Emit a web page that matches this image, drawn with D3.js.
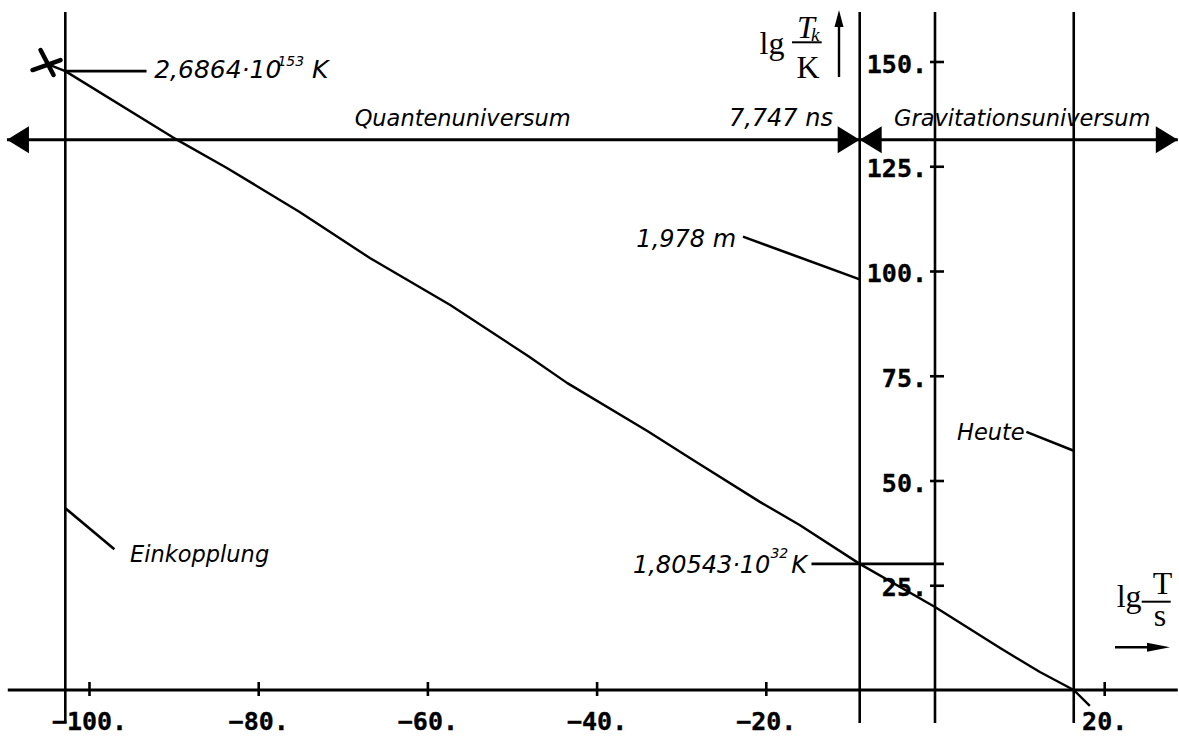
<!DOCTYPE html>
<html>
<head>
<meta charset="utf-8">
<script src="https://cdn.jsdelivr.net/npm/d3@7"></script>
<style>
  html, body { margin: 0; padding: 0; background: #fff; }
  svg { display: block; }
  .tick text { font-family: "DejaVu Sans Mono", monospace; font-weight: bold; font-size: 25px; fill: #000; stroke: #000; stroke-width: 0.35px; }
  .ann { font-family: "DejaVu Sans", sans-serif; font-style: italic; fill: #000; }
  .serif { font-family: "Liberation Serif", "Times New Roman", serif; fill: #000; }
</style>
</head>
<body>
<script>
// ---------- data ----------
const xTicks = [-100, -80, -60, -40, -20, 20];
const yTicks = [25, 50, 75, 100, 125, 150];

// lg(T/s) vs lg(Tk/K) curve
const curveX = [-104.9, -102.8, -90.1, -83.7, -75.1, -66.8, -57.3, -48.1, -43.5, -34.0, -28.6, -20.7, -16.0, -8.9, 0, 7.7, 12.4, 16.4, 18.3];
const curveY = [149.4, 147.7, 131.9, 124.6, 114.1, 103.1, 91.9, 79.7, 73.3, 61.8, 54.9, 44.9, 39.4, 30.1, 19.8, 10.0, 4.3, 0, -3.8];

// vertical event lines: Einkopplung, 7,747 ns, axis, Heute
const eventX = [-102.8, -8.9, 0, 16.4];

// epoch arrows
const epochNames = ["Quantenuniversum", "Gravitationsuniversum"];
const epochFrom = [-109.7, -8.9];
const epochTo = [-8.9, 28.7];
const epochLevel = 131.3;

// leader lines [x1, y1, x2, y2]
const leaders = [
  [-102.8, 147.7, -93.2, 147.7],
  [-22.7, 108.2, -8.9, 98.0],
  [-14.6, 30.1, 1.06, 30.1],
  [10.8, 61.6, 16.4, 57.1],
  [-102.8, 43.4, -97.0, 33.6]
];

// labels
const labelText = ["Quantenuniversum", "Gravitationsuniversum", "Heute", "Einkopplung"];
const labelX = [-68.6, -4.85, 2.6, -95.15];
const labelY = [134.5, 134.5, 59.7, 30.6];

// ---------- layout ----------
const W = 1179, H = 736;
const x = d3.scaleLinear().domain([-100, 20]).range([89, 1104.2]);
const y = d3.scaleLinear().domain([0, 150]).range([690, 61.5]);
const lineTop = 12, lineBottom = 723;
const SW = 2.6;

const svg = d3.select("body").append("svg").attr("width", W).attr("height", H);
svg.append("rect").attr("width", W).attr("height", H).attr("fill", "#fff");

// ---------- axes ----------
const xAxisG = svg.append("g").attr("transform", `translate(0,${y(0)})`)
  .call(d3.axisBottom(x).tickValues(xTicks).tickSizeOuter(0)
    .tickFormat(d => (d < 0 ? "\u2212" : "") + Math.abs(d) + "."));
xAxisG.select(".domain").remove();
xAxisG.selectAll(".tick line").attr("y1", -8).attr("y2", 6).attr("stroke", "#000").attr("stroke-width", SW);
xAxisG.selectAll(".tick text").attr("y", 40).attr("dy", 0);

const yAxisG = svg.append("g").attr("transform", `translate(${x(0)},0)`)
  .call(d3.axisLeft(y).tickValues(yTicks).tickSizeOuter(0).tickSize(5).tickPadding(0)
    .tickFormat(d => d + "."));
yAxisG.select(".domain").remove();
yAxisG.selectAll(".tick line").attr("x1", -5).attr("x2", 9).attr("stroke", "#000").attr("stroke-width", SW);
yAxisG.selectAll(".tick text").attr("x", -8).attr("dy", "0.42em");

// x axis line
svg.append("line")
  .attr("x1", x(-109.6)).attr("x2", x(28.7))
  .attr("y1", y(0)).attr("y2", y(0))
  .attr("stroke", "#000").attr("stroke-width", 3);

// vertical event lines
svg.selectAll(".ev").data(eventX).enter().append("line")
  .attr("x1", d => x(d)).attr("x2", d => x(d))
  .attr("y1", lineTop).attr("y2", lineBottom)
  .attr("stroke", "#000").attr("stroke-width", SW);

// ---------- epoch arrows ----------
function head(tx, ty, dir, len, half) {
  return `M${tx},${ty} L${tx - dir * len},${ty - half} L${tx - dir * len},${ty + half} Z`;
}
epochNames.forEach((n, i) => {
  const x1 = x(epochFrom[i]), x2 = x(epochTo[i]), yy = y(epochLevel);
  svg.append("line").attr("x1", x1).attr("x2", x2).attr("y1", yy).attr("y2", yy)
    .attr("stroke", "#000").attr("stroke-width", 3);
  svg.append("path").attr("d", head(x1, yy, -1, 22, 13.5)).attr("fill", "#000");
  svg.append("path").attr("d", head(x2, yy, 1, 22, 13.5)).attr("fill", "#000");
});

// ---------- curve ----------
const pts = curveX.map((v, i) => [v, curveY[i]]);
svg.append("path").datum(pts)
  .attr("d", d3.line().x(d => x(d[0])).y(d => y(d[1])))
  .attr("fill", "none").attr("stroke", "#000").attr("stroke-width", 2.4)
  .attr("stroke-linejoin", "round");

// start marker
const mx = x(curveX[0]), my = y(curveY[0]);
svg.append("path")
  .attr("d", `M${mx - 15},${my + 6} L${mx + 13},${my - 4} M${mx - 7},${my - 14} L${mx + 6},${my + 11}`)
  .attr("stroke", "#000").attr("stroke-width", 4.5).attr("stroke-linecap", "round").attr("fill", "none");

// leader lines
svg.selectAll(".ld").data(leaders).enter().append("line")
  .attr("x1", d => x(d[0])).attr("y1", d => y(d[1]))
  .attr("x2", d => x(d[2])).attr("y2", d => y(d[3]))
  .attr("stroke", "#000").attr("stroke-width", SW);

// ---------- labels ----------
labelText.forEach((t, i) => {
  svg.append("text").attr("class", "ann").attr("font-size", 22.5)
    .attr("x", x(labelX[i])).attr("y", y(labelY[i])).text(t);
});

// numeric annotations with superscripts
const t1 = svg.append("text").attr("class", "ann").attr("font-size", 25)
  .attr("x", x(-92.3)).attr("y", y(146.1));
t1.append("tspan").text("2,6864\u00B710");
t1.append("tspan").attr("font-size", 14).attr("dx", -4).attr("dy", -11.6).text("153");
t1.append("tspan").attr("dx", 0).attr("dy", 11.6).text(" K");

svg.append("text").attr("class", "ann").attr("font-size", 24)
  .attr("x", x(-35.3)).attr("y", y(105.8)).text("1,978 m");

svg.append("text").attr("class", "ann").attr("font-size", 24)
  .attr("text-anchor", "end")
  .attr("x", x(-12.06)).attr("y", y(134.5)).text("7,747 ns");

const t2 = svg.append("text").attr("class", "ann").attr("font-size", 24)
  .attr("x", x(-35.7)).attr("y", y(27.85));
t2.append("tspan").text("1,80543\u00B710");
t2.append("tspan").attr("font-size", 14).attr("dx", 0).attr("dy", -15).text("32");
t2.append("tspan").attr("dx", 3).attr("dy", 15).text("K");

// ---------- axis titles ----------
// y title: lg Tk/K
svg.append("text").attr("class", "serif").attr("font-size", 32).attr("x", 759.5).attr("y", 54).text("lg");
svg.append("text").attr("class", "serif").attr("font-size", 32).attr("font-style", "italic").attr("x", 797).attr("y", 38).text("T");
svg.append("text").attr("class", "serif").attr("font-size", 19).attr("font-style", "italic").attr("x", 811).attr("y", 41).text("k");
svg.append("line").attr("x1", 792).attr("x2", 821.7).attr("y1", 42.3).attr("y2", 42.3).attr("stroke", "#000").attr("stroke-width", 2);
svg.append("text").attr("class", "serif").attr("font-size", 32).attr("text-anchor", "middle").attr("x", 808).attr("y", 78.3).text("K");
svg.append("line").attr("x1", 839).attr("x2", 839).attr("y1", 77).attr("y2", 22).attr("stroke", "#000").attr("stroke-width", 2.4);
svg.append("path").attr("d", `M839,10 L843.5,27 L834.5,27 Z`).attr("fill", "#000");

// x title: lg T/s
svg.append("text").attr("class", "serif").attr("font-size", 32).attr("x", 1116.7).attr("y", 607).text("lg");
svg.append("text").attr("class", "serif").attr("font-size", 32).attr("text-anchor", "middle").attr("x", 1162.5).attr("y", 594).text("T");
svg.append("line").attr("x1", 1141.7).attr("x2", 1170.7).attr("y1", 601.7).attr("y2", 601.7).attr("stroke", "#000").attr("stroke-width", 2);
svg.append("text").attr("class", "serif").attr("font-size", 32).attr("text-anchor", "middle").attr("x", 1160).attr("y", 626).text("s");
svg.append("line").attr("x1", 1115).attr("x2", 1150).attr("y1", 647.3).attr("y2", 647.3).attr("stroke", "#000").attr("stroke-width", 2.4);
svg.append("path").attr("d", `M1170,647.3 L1147,642.8 L1147,651.8 Z`).attr("fill", "#000");
</script>
</body>
</html>
